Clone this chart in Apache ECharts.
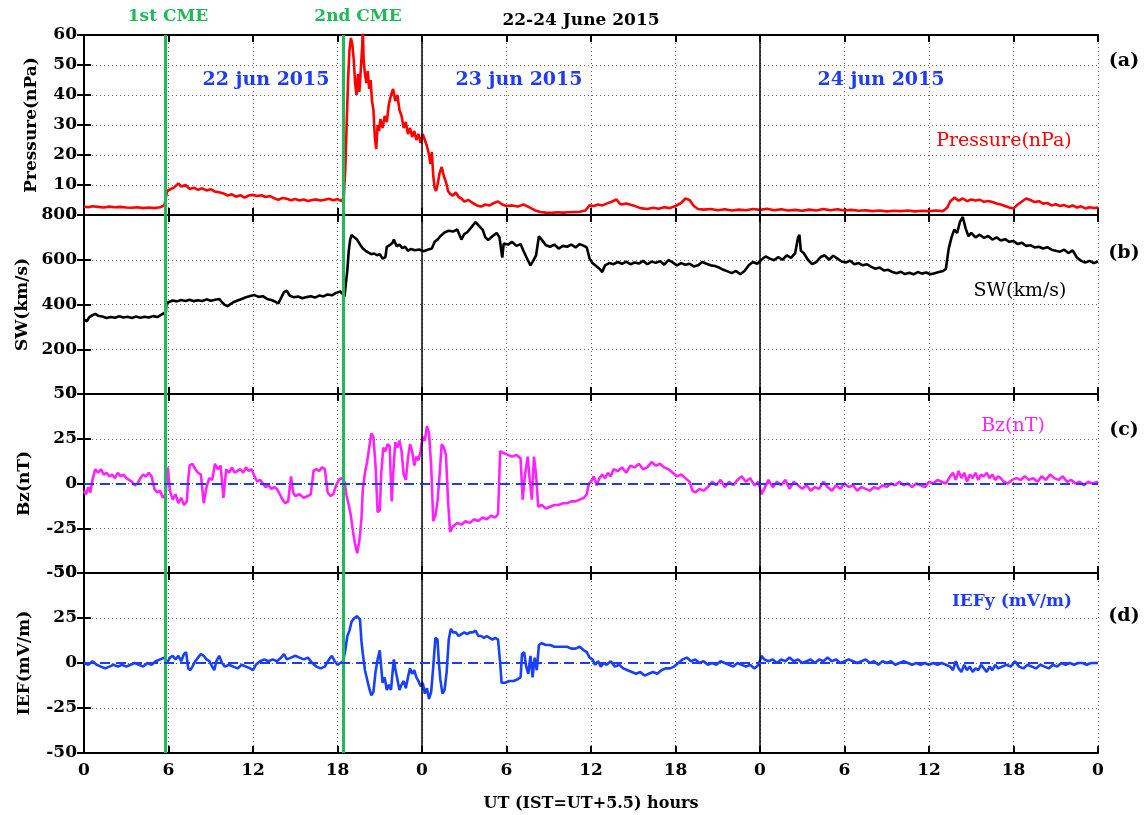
<!DOCTYPE html>
<html>
<head>
<meta charset="utf-8">
<style>
  html, body { margin: 0; padding: 0; background: #fff; }
  #chart { width: 1146px; height: 815px; }
</style>
<script src="https://cdn.jsdelivr.net/npm/echarts@6.0.0/dist/echarts.min.js"></script>
</head>
<body>
<div id="chart"></div>
<script>
// ---- data: [UT hour from 22 Jun 00:00, value] ----
const cmeHours = [5.8, 18.4];
const cmeLabels = ['1st CME', '2nd CME'];
const dayBreaks = [24, 48];
const dayLabels = ['22 jun 2015', '23 jun 2015', '24 jun 2015'];
const panelTags = ['(a)', '(b)', '(c)', '(d)'];

// dynamic pressure (nPa)
const pressure = [[0,2.8],[0.3,2.6],[0.6,2.9],[1,2.7],[1.4,2.5],[1.8,2.8],[2.2,2.6],[2.6,2.7],[3,2.5],[3.4,2.4],[3.8,2.6],[4.2,2.3],[4.6,2.5],[5,2.3],[5.4,2.6],[5.7,3.2],[5.8,5.5],[5.9,8],[6.1,8.5],[6.4,9.2],[6.7,10.5],[6.9,9.5],[7.2,10],[7.5,8.7],[7.8,9.1],[8.1,8.4],[8.4,8.9],[8.7,8.2],[9,8.6],[9.3,7.8],[9.6,7.6],[9.9,7.2],[10.2,6.5],[10.5,6.9],[10.8,6.1],[11.1,6.6],[11.4,5.8],[11.7,6.5],[12,6.7],[12.3,6.3],[12.6,6.6],[12.9,6],[13.2,6.3],[13.5,5.6],[13.8,5.1],[14.1,5.7],[14.4,5.4],[14.7,4.9],[15,5.3],[15.3,4.8],[15.6,5.2],[15.9,4.7],[16.2,5],[16.5,5.2],[16.8,4.8],[17.1,5.1],[17.4,5.4],[17.7,4.9],[18,5.3],[18.3,4.6],[18.45,6],[18.55,15],[18.65,30],[18.75,45],[18.85,55],[18.95,59],[19.05,57],[19.15,52],[19.25,44],[19.35,40],[19.45,47],[19.55,41],[19.65,48],[19.75,56],[19.8,62],[19.85,52],[19.95,47],[20.05,44],[20.15,48],[20.25,42],[20.35,45],[20.45,38],[20.55,35],[20.65,26],[20.75,22],[20.85,30],[20.95,28],[21.05,32],[21.2,29],[21.35,33],[21.5,31],[21.65,37],[21.8,40],[21.95,42],[22.1,38],[22.25,40],[22.4,35],[22.55,33],[22.7,29],[22.85,31],[23,27],[23.15,29],[23.3,26],[23.45,28],[23.6,25],[23.75,27],[23.9,24],[24.05,27],[24.2,25],[24.35,23],[24.5,20],[24.6,17],[24.7,21],[24.8,13],[24.9,9],[25,8],[25.1,10],[25.25,14],[25.4,16],[25.55,13],[25.7,11],[25.85,8],[26,7],[26.2,6.5],[26.4,7.5],[26.6,6],[26.8,5.5],[27,4.5],[27.3,5],[27.6,4],[27.9,3.2],[28.2,2.8],[28.5,3.5],[28.8,3.2],[29.1,4],[29.4,4.5],[29.7,3.5],[30,3],[30.4,3.2],[30.8,2.8],[31.2,3.5],[31.6,2.6],[32,1.6],[32.4,1],[32.8,0.8],[33.2,0.7],[33.6,0.9],[34,0.8],[34.4,0.9],[34.8,1],[35.2,1.1],[35.6,1.5],[35.9,3.2],[36.2,3],[36.5,3.5],[36.8,3.2],[37.1,3.8],[37.5,4.5],[37.8,5.2],[38.1,3.5],[38.5,3.8],[39,3.2],[39.5,2.3],[40,2],[40.4,2.4],[40.8,2.1],[41.2,2.6],[41.6,2.3],[42,3],[42.4,4],[42.7,5.5],[43,5],[43.3,3],[43.6,2],[44,1.8],[44.5,2],[45,1.6],[45.5,1.9],[46,1.5],[46.5,1.8],[47,1.6],[47.5,2],[48,1.7],[48.5,2.1],[49,1.6],[49.5,1.9],[50,1.5],[50.5,1.7],[51,1.4],[51.5,1.8],[52,1.5],[52.5,2],[53,1.6],[53.5,1.9],[54,1.5],[54.5,1.7],[55,1.4],[55.5,1.6],[56,1.3],[56.5,1.5],[57,1.2],[57.5,1.4],[58,1.3],[58.5,1.5],[59,1.2],[59.5,1.4],[60,1.3],[60.5,1.5],[61,1.3],[61.3,2.5],[61.5,4.5],[61.8,5.8],[62.1,4.8],[62.4,5.5],[62.7,4.6],[63,5.2],[63.3,4.8],[63.6,5.1],[63.9,4.4],[64.2,4.7],[64.5,4.3],[64.8,3.8],[65.1,3.5],[65.4,3],[65.7,2.5],[66,2.2],[66.3,3.5],[66.6,4.5],[66.9,5.5],[67.2,5],[67.5,4.3],[67.8,4.6],[68.1,3.8],[68.4,4],[68.7,3.2],[69,3.6],[69.3,3],[69.6,3.3],[69.9,2.7],[70.2,3.2],[70.5,2.5],[70.8,2.9],[71.1,2.2],[71.4,2.6],[71.7,2.3],[72,2.5]];

// solar wind speed (km/s)
const swSpeed = [[0,333],[0.2,325],[0.4,345],[0.6,352],[0.8,358],[1,350],[1.3,346],[1.6,340],[1.9,344],[2.2,341],[2.5,347],[2.8,342],[3.1,345],[3.4,340],[3.7,346],[4,341],[4.3,345],[4.6,342],[4.9,348],[5.2,344],[5.5,355],[5.7,362],[5.8,352],[5.85,405],[6,410],[6.3,418],[6.6,414],[6.9,420],[7.2,416],[7.5,421],[7.8,415],[8.1,419],[8.4,416],[8.7,423],[9,417],[9.3,421],[9.6,425],[9.8,410],[10,398],[10.2,392],[10.4,402],[10.6,410],[10.9,418],[11.2,425],[11.5,432],[11.8,438],[12.1,442],[12.4,434],[12.7,437],[13,425],[13.3,420],[13.6,412],[13.8,405],[14.2,455],[14.4,462],[14.6,440],[14.9,432],[15.2,436],[15.5,428],[15.8,433],[16.1,437],[16.4,431],[16.7,440],[17,436],[17.3,445],[17.6,441],[17.9,452],[18.2,458],[18.4,445],[18.5,436],[18.6,440],[18.7,555],[18.8,640],[18.9,690],[19,711],[19.2,700],[19.4,689],[19.6,668],[19.8,650],[20,640],[20.2,632],[20.4,625],[20.6,628],[20.8,620],[21,625],[21.2,605],[21.4,612],[21.5,658],[21.7,665],[21.9,675],[22,690],[22.2,660],[22.4,668],[22.6,652],[22.8,658],[23,640],[23.2,648],[23.5,642],[23.8,646],[24.1,638],[24.4,645],[24.7,650],[24.9,680],[25.1,690],[25.3,705],[25.6,722],[25.9,730],[26.2,726],[26.5,735],[26.8,690],[27,715],[27.2,722],[27.5,745],[27.8,768],[28,755],[28.3,735],[28.5,700],[28.7,688],[29,705],[29.3,720],[29.5,700],[29.7,610],[29.8,672],[30.1,668],[30.4,680],[30.7,662],[31,670],[31.2,640],[31.5,600],[31.7,575],[31.9,596],[32.1,620],[32.3,705],[32.5,690],[32.8,665],[33.1,658],[33.4,668],[33.7,650],[34,662],[34.3,658],[34.6,668],[34.9,655],[35.2,670],[35.5,662],[35.7,655],[35.9,605],[36.1,585],[36.3,575],[36.6,560],[36.8,545],[37,575],[37.3,585],[37.6,580],[37.9,590],[38.2,582],[38.5,592],[38.8,580],[39.1,588],[39.4,583],[39.7,595],[40,580],[40.3,592],[40.6,586],[40.9,594],[41.2,578],[41.5,598],[41.8,588],[42.1,575],[42.4,585],[42.7,578],[43,582],[43.3,570],[43.6,575],[43.9,590],[44.2,582],[44.5,575],[44.8,572],[45.1,565],[45.4,555],[45.7,548],[46,540],[46.3,550],[46.6,535],[46.9,550],[47.2,575],[47.5,590],[47.8,582],[48.1,600],[48.4,615],[48.7,605],[49,598],[49.3,612],[49.6,600],[49.9,620],[50.2,608],[50.5,630],[50.7,700],[50.8,711],[50.9,640],[51.1,630],[51.4,600],[51.7,580],[52,590],[52.3,612],[52.6,620],[52.9,600],[53.2,618],[53.5,605],[53.8,592],[54.1,588],[54.4,596],[54.7,580],[55,585],[55.3,575],[55.6,580],[55.9,568],[56.2,560],[56.5,565],[56.8,552],[57.1,555],[57.4,545],[57.7,540],[58,546],[58.3,536],[58.6,542],[58.9,535],[59.2,545],[59.5,538],[59.8,543],[60.1,535],[60.4,540],[60.7,545],[61,550],[61.2,560],[61.4,650],[61.6,700],[61.8,735],[62,720],[62.2,770],[62.4,791],[62.6,740],[62.8,705],[63,720],[63.3,700],[63.6,712],[63.9,698],[64.2,706],[64.5,690],[64.8,700],[65.1,686],[65.4,692],[65.7,680],[66,684],[66.3,670],[66.6,676],[66.9,662],[67.2,665],[67.5,655],[67.8,658],[68.1,650],[68.4,656],[68.7,645],[69,640],[69.3,636],[69.6,645],[69.9,630],[70.2,642],[70.5,610],[70.8,595],[71.1,588],[71.4,595],[71.7,585],[72,592]];

// IMF Bz (nT)
const bz = [[0,-4],[0.15,-6],[0.3,-2],[0.45,-5],[0.6,2],[0.8,8],[1,6],[1.2,8],[1.4,5],[1.6,6],[1.8,4],[2,5],[2.2,3],[2.4,6],[2.6,4],[2.8,5],[3,3],[3.2,2],[3.4,1],[3.6,-1],[3.8,0],[4,3],[4.2,5],[4.4,4],[4.6,6],[4.8,4],[5,-3],[5.2,-5],[5.4,-4],[5.6,-8],[5.8,-6],[5.95,9],[6.1,-4],[6.3,-9],[6.5,-6],[6.7,-11],[6.9,-8],[7.1,-12],[7.3,-10],[7.4,2],[7.5,10],[7.7,11],[7.9,8],[8.1,6],[8.3,5],[8.5,-11],[8.7,-2],[8.9,3],[9.1,2],[9.3,11],[9.5,8],[9.7,10],[9.9,-8],[10.1,8],[10.3,6],[10.5,9],[10.7,6],[10.9,7],[11.1,8],[11.3,6],[11.5,9],[11.7,7],[11.9,8],[12.1,4],[12.3,1],[12.5,2],[12.7,0],[12.9,-2],[13.1,-1],[13.3,-3],[13.5,-2],[13.7,-3],[13.9,-6],[14.1,-9],[14.3,-11],[14.5,-10],[14.7,4],[14.85,-5],[15,-7],[15.3,-6],[15.6,-8],[15.9,-7],[16.1,-6],[16.3,7],[16.5,8],[16.7,7],[16.9,9],[17.1,8],[17.3,-5],[17.5,-7],[17.7,-6],[17.9,-1],[18.1,2],[18.3,3],[18.5,1],[18.65,-7],[18.8,-12],[18.95,-18],[19.1,-27],[19.25,-34],[19.4,-39],[19.55,-32],[19.7,-20],[19.8,-3],[19.95,6],[20.1,12],[20.25,20],[20.4,28],[20.55,26],[20.7,10],[20.85,-16],[21,-15],[21.1,5],[21.25,20],[21.4,18],[21.55,22],[21.7,21],[21.85,-10],[21.95,5],[22.1,23],[22.25,20],[22.4,24],[22.55,18],[22.7,5],[22.85,2],[23,14],[23.15,22],[23.3,18],[23.45,10],[23.6,15],[23.75,13],[23.9,18],[24.05,26],[24.2,24],[24.35,32],[24.5,28],[24.65,10],[24.8,-21],[24.95,-18],[25.1,-10],[25.25,5],[25.4,22],[25.55,20],[25.7,16],[25.85,-10],[26,-27],[26.2,-24],[26.5,-22],[26.8,-23],[27.1,-21],[27.4,-22],[27.7,-20],[28,-21],[28.3,-19],[28.6,-20],[28.9,-18],[29.2,-19],[29.4,-17],[29.55,18],[29.8,17],[30.1,16],[30.4,15],[30.7,16],[31,14],[31.15,-9],[31.3,4],[31.5,15],[31.65,2],[31.8,-9],[31.95,15],[32.1,5],[32.25,-13],[32.5,-12],[32.8,-14],[33.1,-13],[33.4,-12],[33.7,-12],[34,-11],[34.3,-11],[34.6,-10],[34.9,-10],[35.2,-9],[35.5,-8],[35.7,-6],[35.85,0],[36,1],[36.2,4],[36.4,-1],[36.6,3],[36.8,5],[37,3],[37.2,6],[37.4,4],[37.6,8],[37.9,7],[38.2,9],[38.5,6],[38.8,10],[39.1,9],[39.4,11],[39.7,8],[40,9],[40.3,12],[40.6,10],[40.9,11],[41.2,9],[41.5,8],[41.8,6],[42.1,4],[42.4,5],[42.7,3],[43,1],[43.2,-4],[43.4,-5],[43.7,-3],[44,-4],[44.3,-2],[44.6,1],[44.9,-1],[45.2,2],[45.5,-2],[45.8,1],[46.1,-1],[46.4,2],[46.7,4],[47,1],[47.3,3],[47.6,-1],[47.9,1],[48.1,-6],[48.3,-3],[48.6,2],[48.9,-2],[49.2,1],[49.5,-1],[49.8,2],[50.1,-3],[50.4,1],[50.7,-1],[51,-3],[51.3,-1],[51.6,-4],[51.9,-2],[52.2,-3],[52.5,1],[52.8,-2],[53.1,-4],[53.4,-1],[53.7,-3],[54,0],[54.3,-2],[54.6,-1],[54.9,-4],[55.2,-2],[55.5,-3],[55.8,-4],[56.1,-2],[56.4,-3],[56.7,-1],[57,-2],[57.3,0],[57.6,-1],[57.9,1],[58.2,-1],[58.5,0],[58.8,-2],[59.1,0],[59.4,-1],[59.7,-2],[60,1],[60.3,0],[60.6,2],[60.9,1],[61.2,0],[61.5,4],[61.7,6],[61.9,2],[62.1,7],[62.3,3],[62.5,6],[62.7,1],[62.9,5],[63.1,3],[63.3,6],[63.5,2],[63.7,5],[63.9,4],[64.1,6],[64.3,3],[64.5,5],[64.7,2],[64.9,4],[65.1,3],[65.3,1],[65.6,0],[65.9,2],[66.2,3],[66.5,2],[66.8,4],[67.1,2],[67.4,3],[67.7,1],[68,4],[68.3,2],[68.6,5],[68.9,3],[69.2,2],[69.5,4],[69.8,1],[70.1,2],[70.4,0],[70.7,1],[71,-1],[71.3,1],[71.6,0],[72,1]];

// interplanetary electric field Ey (mV/m)
const iefY = [[0,0],[0.3,-1],[0.6,1],[0.9,-1],[1.2,-2],[1.5,-3],[1.8,-2],[2.1,-1],[2.4,-2],[2.7,-1],[3,-2],[3.3,-1],[3.6,0],[3.9,-1],[4.2,-2],[4.5,0],[4.8,-1],[5.1,1],[5.4,2],[5.7,3],[5.9,0],[6.1,3],[6.3,4],[6.5,2],[6.7,4],[6.9,1],[7.1,5],[7.25,6],[7.4,-3],[7.55,-4],[7.7,-2],[7.9,1],[8.1,3],[8.3,5],[8.5,4],[8.7,2],[8.9,1],[9.1,-2],[9.25,-4],[9.4,1],[9.6,4],[9.8,0],[10,-2],[10.3,-1],[10.6,-2],[10.9,-3],[11.2,-1],[11.5,-2],[11.8,-3],[12,-4],[12.2,-1],[12.5,1],[12.8,2],[13.1,1],[13.4,2],[13.7,1],[14,3],[14.2,5],[14.4,2],[14.7,3],[15,4],[15.3,3],[15.6,2],[15.9,3],[16.2,0],[16.5,-2],[16.8,-3],[17.1,-2],[17.4,2],[17.6,4],[17.8,1],[18,-1],[18.2,0],[18.4,1],[18.55,7],[18.7,15],[18.85,18],[19,23],[19.2,25],[19.4,26],[19.6,24],[19.7,12],[19.8,5],[19.95,-4],[20.1,-9],[20.25,-14],[20.4,-18],[20.55,-16],[20.7,-5],[20.85,2],[21,7],[21.1,6],[21.2,-11],[21.35,-8],[21.5,-15],[21.65,-12],[21.8,-15],[21.9,-6],[22,2],[22.1,-3],[22.25,-9],[22.4,-15],[22.55,-12],[22.7,-10],[22.85,-14],[23,-8],[23.15,-3],[23.3,-6],[23.45,-4],[23.6,-8],[23.75,-10],[23.9,-13],[24.05,-11],[24.2,-17],[24.35,-14],[24.5,-20],[24.65,-16],[24.8,-2],[24.95,14],[25.1,13],[25.2,0],[25.3,-9],[25.45,-17],[25.6,-15],[25.75,-5],[25.9,13],[26.05,19],[26.2,17],[26.4,17],[26.6,15],[26.8,16],[27,17],[27.2,16],[27.4,17],[27.6,17],[27.8,18],[28,15],[28.2,15],[28.4,14],[28.6,15],[28.8,14],[29,13],[29.2,14],[29.4,13],[29.55,0],[29.65,-11],[29.9,-11],[30.2,-10],[30.5,-10],[30.8,-9],[31,-8],[31.1,5],[31.25,6],[31.4,-2],[31.55,-6],[31.7,4],[31.85,-8],[32,3],[32.15,-4],[32.3,10],[32.5,11],[32.8,10],[33.1,10],[33.4,9],[33.7,9],[34,9],[34.3,9],[34.6,8],[34.9,8],[35.2,9],[35.5,7],[35.7,6],[35.9,3],[36.1,2],[36.3,-1],[36.5,1],[36.7,-2],[36.9,0],[37.1,-1],[37.4,1],[37.7,-2],[38,-1],[38.3,-3],[38.6,-4],[38.9,-5],[39.2,-6],[39.5,-5],[39.8,-7],[40.1,-6],[40.4,-5],[40.7,-6],[41,-4],[41.3,-3],[41.6,-3],[41.9,-2],[42.2,0],[42.5,2],[42.8,3],[43.1,1],[43.4,2],[43.7,0],[44,1],[44.3,-1],[44.6,0],[44.9,-1],[45.2,1],[45.5,0],[45.8,-1],[46.1,-2],[46.4,0],[46.7,-1],[47,-2],[47.3,-1],[47.6,-3],[47.9,-1],[48.1,4],[48.3,2],[48.6,1],[48.9,2],[49.2,0],[49.5,2],[49.8,1],[50.1,3],[50.4,1],[50.7,2],[51,0],[51.3,1],[51.6,2],[51.9,0],[52.2,2],[52.5,1],[52.8,3],[53.1,1],[53.4,2],[53.7,0],[54,1],[54.3,2],[54.6,1],[54.9,0],[55.2,1],[55.5,2],[55.8,0],[56.1,1],[56.4,-1],[56.7,1],[57,0],[57.3,1],[57.6,-1],[57.9,0],[58.2,1],[58.5,0],[58.8,-1],[59.1,0],[59.4,-1],[59.7,0],[60,-1],[60.3,0],[60.6,-1],[60.9,0],[61.2,-1],[61.5,-2],[61.7,-4],[61.9,1],[62.1,-3],[62.3,-5],[62.5,-1],[62.7,-4],[62.9,-2],[63.1,-5],[63.3,-3],[63.5,-4],[63.7,-1],[63.9,-3],[64.1,-5],[64.3,-2],[64.5,-4],[64.7,-1],[64.9,-3],[65.2,-2],[65.5,-1],[65.8,-2],[66.1,1],[66.4,-2],[66.7,-3],[67,-1],[67.3,-2],[67.6,-3],[67.9,-1],[68.2,-2],[68.5,-3],[68.8,-1],[69.1,-2],[69.4,0],[69.7,-1],[70,0],[70.3,-1],[70.6,0],[70.9,0],[71.2,-1],[71.5,0],[72,0]];

// ---- chart setup ----
const FONT = '"DejaVu Serif", "Liberation Serif", serif';
const GREEN = '#1fb95a';
const BLUE = '#1f3cf5';

// one entry per stacked panel
const panels = [
  { data: pressure, color: '#ff0000', min: 0, max: 60, interval: 10, name: 'Pressure(nPa)', gap: 44, top: 35, height: 180, zero: false },
  { data: swSpeed, color: '#000000', min: 0, max: 800, interval: 200, name: 'SW(km/s)', gap: 53, top: 215, height: 179, zero: false },
  { data: bz, color: '#ff22ff', min: -50, max: 50, interval: 25, name: 'Bz(nT)', gap: 51, top: 394, height: 179, zero: true },
  { data: iefY, color: '#1740ff', min: -50, max: 50, interval: 25, name: 'IEF(mV/m)', gap: 51, top: 573, height: 180, zero: true }
];

let grids = [], xAxes = [], yAxes = [], series = [];

panels.forEach((p, i) => {
  const last = i === panels.length - 1;
  grids.push({ left: 84, right: 48, top: p.top, height: p.height, outerBoundsMode: 'none' });

  // bottom x axis (labels only on last panel)
  xAxes.push({
    type: 'value', gridIndex: i, min: 0, max: 72, interval: 6,
    axisLine: { show: true, onZero: false, lineStyle: { color: '#000', width: 2 } },
    axisTick: { show: true, inside: true, length: 7, lineStyle: { color: '#000', width: 2 } },
    axisLabel: {
      show: last, margin: 9, color: '#000',
      fontFamily: FONT, fontWeight: 'bold', fontSize: 17,
      formatter: v => String(v % 24)
    },
    splitLine: { show: true, lineStyle: { color: '#666', width: 1, type: [1, 3] } },
    name: last ? 'UT (IST=UT+5.5) hours' : '',
    nameLocation: 'middle', nameGap: 43,
    nameTextStyle: { color: '#000', fontFamily: FONT, fontWeight: 'bold', fontSize: 16 }
  });
  // top x axis, ticks only (box)
  xAxes.push({
    type: 'value', gridIndex: i, min: 0, max: 72, interval: 6, position: 'top',
    axisLine: { show: true, onZero: false, lineStyle: { color: '#000', width: 2 } },
    axisTick: { show: true, inside: true, length: 7, lineStyle: { color: '#000', width: 2 } },
    axisLabel: { show: false }, splitLine: { show: false }
  });

  // left y axis with labels and name
  yAxes.push({
    type: 'value', gridIndex: i, min: p.min, max: p.max, interval: p.interval,
    axisLine: { show: true, lineStyle: { color: '#000', width: 2 } },
    axisTick: { show: true, inside: true, length: 7, lineStyle: { color: '#000', width: 2 } },
    axisLabel: { margin: 7, color: '#000', fontFamily: FONT, fontWeight: 'bold', fontSize: 17 },
    splitLine: { show: true, lineStyle: { color: '#666', width: 1, type: [1, 3] } },
    name: p.name, nameLocation: 'middle', nameRotate: 90, nameGap: p.gap,
    nameTextStyle: { color: '#000', fontFamily: FONT, fontWeight: 'bold', fontSize: 17 }
  });
  // right y axis, ticks only
  yAxes.push({
    type: 'value', gridIndex: i, min: p.min, max: p.max, interval: p.interval, position: 'right',
    axisLine: { show: true, lineStyle: { color: '#000', width: 2 } },
    axisTick: { show: true, inside: true, length: 7, lineStyle: { color: '#000', width: 2 } },
    axisLabel: { show: false }, splitLine: { show: false }
  });

  // vertical markers: day boundaries (black) and CME arrivals (green)
  let marks = dayBreaks.map(h => ({ xAxis: h, lineStyle: { color: '#000', width: 1.5, type: 'solid' } }));
  cmeHours.forEach(h => marks.push({ xAxis: h, lineStyle: { color: GREEN, width: 3, type: 'solid' } }));
  if (p.zero) {
    marks.push({ yAxis: 0, lineStyle: { color: BLUE, width: 2, type: [10, 6] } });
  }

  series.push({
    type: 'line', xAxisIndex: i * 2, yAxisIndex: i * 2,
    data: p.data, symbol: 'none', clip: true,
    lineStyle: { color: p.color, width: 2.6 },
    itemStyle: { color: p.color },
    z: 3,
    markLine: { silent: true, symbol: 'none', label: { show: false }, animation: false, data: marks }
  });
});

// free text annotations
function txt(text, x, y, color, font) {
  return { type: 'text', x: x, y: y, silent: true, z: 100,
    style: { text: text, fill: color, font: font, textAlign: 'center', textVerticalAlign: 'middle' } };
}
const bold17 = 'bold 17px ' + FONT;
let graphics = [
  txt('22-24 June 2015', 581, 21, '#000', bold17),
  txt(cmeLabels[0], 168, 17, GREEN, bold17),
  txt(cmeLabels[1], 358, 17, GREEN, bold17),
  txt(dayLabels[0], 266, 80, BLUE, 'bold 19px ' + FONT),
  txt(dayLabels[1], 519, 80, BLUE, 'bold 19px ' + FONT),
  txt(dayLabels[2], 881, 80, BLUE, 'bold 19px ' + FONT),
  txt('Pressure(nPa)', 1004, 141, '#ff0000', '19px ' + FONT),
  txt('SW(km/s)', 1020, 291, '#000', '19px ' + FONT),
  txt('Bz(nT)', 1013, 426, '#ff22ff', '19px ' + FONT),
  txt('IEFy (mV/m)', 1012, 602, BLUE, 'bold 17px ' + FONT)
];
const tagY = [61, 253, 430, 616];
panelTags.forEach((t, i) => graphics.push(txt(t, 1124, tagY[i], '#000', 'bold 19px ' + FONT)));

let chart = echarts.init(document.getElementById('chart'), null, { renderer: 'canvas' });
chart.setOption({
  animation: false,
  backgroundColor: '#fff',
  grid: grids,
  xAxis: xAxes,
  yAxis: yAxes,
  series: series,
  graphic: graphics
});
window.onresize = function () { chart.resize(); };
</script>
</body>
</html>
